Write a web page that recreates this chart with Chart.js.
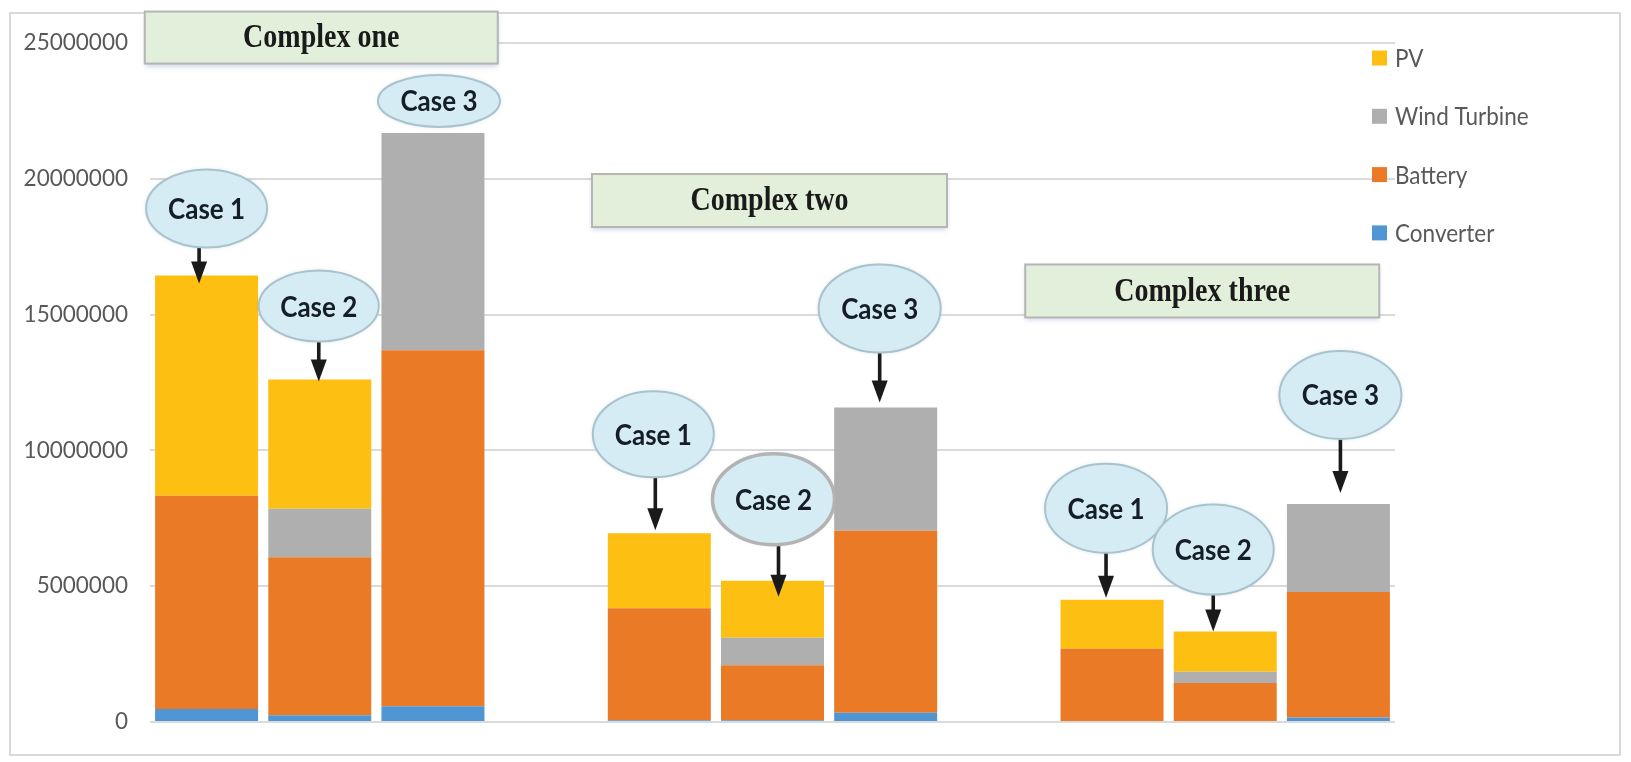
<!DOCTYPE html>
<html>
<head>
<meta charset="utf-8">
<script src="https://cdn.jsdelivr.net/npm/chart.js@4.4.1/dist/chart.umd.min.js"></script>
<style>
  html, body { margin: 0; padding: 0; background: #fff; }
  #wrap { width: 1631px; height: 762px; }
</style>
</head>
<body>
<div id="wrap"><canvas id="chart" width="1631" height="762"></canvas></div>
<script>
// ── Data ─────────────────────────────────────────────────
// 11 slots: three cases per complex, with an empty slot between complexes
const caseLabels = ['Case 1', 'Case 2', 'Case 3', '', 'Case 1', 'Case 2', 'Case 3', '', 'Case 1', 'Case 2', 'Case 3'];
const groupTitles = ['Complex one', 'Complex two', 'Complex three'];
const seriesNames = ['Converter', 'Battery', 'Wind Turbine', 'PV'];

const converter = [480000, 250000, 580000, null, 60000, 60000, 340000, null, 0, 0, 170000];
const battery   = [7850000, 5820000, 13110000, null, 4130000, 2030000, 6700000, null, 2700000, 1440000, 4620000];
const wind      = [0, 1780000, 8000000, null, 0, 1010000, 4540000, null, 0, 410000, 3240000];
const pv        = [8110000, 4760000, 0, null, 2760000, 2100000, 0, null, 1800000, 1480000, 0];

const yTicks = [0, 5000000, 10000000, 15000000, 20000000, 25000000];

// ── Look ─────────────────────────────────────────────────
const colors = ['#5096d5', '#ea7a26', '#afafb0', '#fdbf12'];
const GRID = '#dadada';
const TEXT = '#595959';

// callout ellipse per slot: size, gap above the bar, x shift, arrow tip offset
const calloutLayout = [
  { w: 121, h: 78, gap: 28, dx: 0, ax: -7.5, tip: 8, arrow: true },
  { w: 120, h: 71, gap: 38, dx: -1, ax: -1, tip: 2, arrow: true },
  { w: 122, h: 52, gap: 6, dx: 6, ax: 6, tip: 0, arrow: false },
  null,
  { w: 121, h: 86, gap: 56, dx: -6, ax: -4, tip: -3, arrow: true },
  { w: 122, h: 91, gap: 36, dx: 1, ax: 6, tip: 16, arrow: true, heavy: true },
  { w: 122, h: 88, gap: 55, dx: -6, ax: -6, tip: -5, arrow: true },
  null,
  { w: 122, h: 89, gap: 47, dx: -6, ax: -6, tip: -2, arrow: true },
  { w: 121, h: 90, gap: 37, dx: -12, ax: -12, tip: 0, arrow: true },
  { w: 122, h: 88, gap: 65, dx: 2, ax: 2, tip: -11, arrow: true }
];

const titleLayout = [
  { cat: 1, dx: 1.5, yVal: 25200000, w: 353, h: 52 },
  { cat: 5, dx: -3, yVal: 19200000, w: 355, h: 53 },
  { cat: 9, dx: -23, yVal: 15870000, w: 354, h: 53 }
];

// ── Plugins ──────────────────────────────────────────────
const frame = {
  id: 'frame',
  beforeDraw(chart) {
    const ctx = chart.ctx;
    ctx.save();
    ctx.fillStyle = '#fff';
    ctx.fillRect(0, 0, chart.width, chart.height);
    ctx.strokeStyle = '#d9d9d9';
    ctx.lineWidth = 2;
    ctx.strokeRect(10, 13, 1610, 742);
    ctx.restore();
  }
};

function drawArrow(ctx, x, y0, tipY) {
  ctx.fillStyle = '#1a1a1a';
  ctx.fillRect(x - 1.8, y0, 3.6, tipY - 20 - y0);
  ctx.beginPath();
  ctx.moveTo(x - 8, tipY - 22);
  ctx.lineTo(x + 8, tipY - 22);
  ctx.lineTo(x, tipY);
  ctx.closePath();
  ctx.fill();
}

const annotations = {
  id: 'annotations',
  afterDatasetsDraw(chart) {
    const ctx = chart.ctx;
    const xs = chart.scales.x, ys = chart.scales.y;

    // group titles
    titleLayout.forEach(function (t, i) {
      const cx = xs.getPixelForValue(t.cat) + t.dx;
      const cy = ys.getPixelForValue(t.yVal);
      ctx.save();
      ctx.shadowColor = 'rgba(110,130,180,0.35)';
      ctx.shadowBlur = 5;
      ctx.shadowOffsetY = 3;
      ctx.fillStyle = '#e2efda';
      ctx.fillRect(cx - t.w / 2, cy - t.h / 2, t.w, t.h);
      ctx.restore();
      ctx.save();
      ctx.strokeStyle = '#b5b5b5';
      ctx.lineWidth = 2;
      ctx.strokeRect(cx - t.w / 2, cy - t.h / 2, t.w, t.h);
      ctx.translate(cx, cy + 1);
      ctx.scale(1, 1.2);
      ctx.fillStyle = '#1a1a1a';
      ctx.font = 'bold 28px "Liberation Serif"';
      ctx.textAlign = 'center';
      ctx.textBaseline = 'middle';
      ctx.fillText(groupTitles[i], 0, 0);
      ctx.restore();
    });

    // case callouts
    caseLabels.forEach(function (label, i) {
      const c = calloutLayout[i];
      if (!c || !label) return;
      const total = (converter[i] || 0) + (battery[i] || 0) + (wind[i] || 0) + (pv[i] || 0);
      const barTop = ys.getPixelForValue(total);
      const bx = xs.getPixelForValue(i);
      const ecx = bx + c.dx;
      const eBottom = barTop - c.gap;
      const ecy = eBottom - c.h / 2;

      ctx.save();
      if (c.arrow) drawArrow(ctx, bx + c.ax, eBottom - 1, barTop + c.tip);
      ctx.shadowColor = 'rgba(120,150,170,0.35)';
      ctx.shadowBlur = 4;
      ctx.beginPath();
      ctx.ellipse(ecx, ecy, c.w / 2, c.h / 2, 0, 0, Math.PI * 2);
      ctx.fillStyle = '#d5ecf4';
      ctx.fill();
      ctx.shadowColor = 'transparent';
      ctx.lineWidth = c.heavy ? 3.5 : 2;
      ctx.strokeStyle = c.heavy ? '#b3b3b3' : '#a9c3ce';
      ctx.stroke();
      ctx.translate(ecx, ecy);
      ctx.scale(1, 1.12);
      ctx.fillStyle = '#151d26';
      ctx.font = 'bold 26px Lato';
      ctx.textAlign = 'center';
      ctx.textBaseline = 'middle';
      ctx.fillText(label, 0, 1);
      ctx.restore();
    });

    // legend, top series first
    const lx = chart.chartArea.right - 23;
    const ly = chart.chartArea.top + 15;
    ctx.save();
    ctx.textBaseline = 'middle';
    ctx.textAlign = 'left';
    for (let k = 0; k < seriesNames.length; k++) {
      const d = seriesNames.length - 1 - k;
      const y = ly + k * 58.3;
      ctx.fillStyle = colors[d];
      ctx.fillRect(lx, y - 7.5, 15, 15);
      ctx.save();
      ctx.translate(lx + 23, y + 1);
      ctx.scale(1, 1.12);
      ctx.fillStyle = TEXT;
      ctx.font = '22.5px Lato';
      ctx.fillText(seriesNames[d], 0, 0);
      ctx.restore();
    }
    ctx.restore();
  }
};

// ── Chart ────────────────────────────────────────────────
const seriesData = [converter, battery, wind, pv];

new Chart(document.getElementById('chart'), {
  type: 'bar',
  data: {
    labels: caseLabels,
    datasets: seriesNames.map(function (name, i) {
      return {
        label: name,
        data: seriesData[i],
        backgroundColor: colors[i],
        borderWidth: 0,
        categoryPercentage: 1,
        barPercentage: 0.91
      };
    })
  },
  options: {
    responsive: false,
    animation: false,
    layout: { padding: { left: 0, right: 236, top: 43, bottom: 40 } },
    plugins: {
      legend: { display: false },
      tooltip: { enabled: false }
    },
    scales: {
      x: {
        stacked: true,
        display: false
      },
      y: {
        stacked: true,
        min: 0,
        max: 25000000,
        afterFit: function (s) { s.width = 150; },
        afterBuildTicks: function (s) { s.ticks = yTicks.map(function (v) { return { value: v }; }); },
        border: { display: false },
        grid: { color: GRID, lineWidth: 2, drawTicks: false },
        ticks: {
          padding: 22,
          color: TEXT,
          font: { family: 'Lato', size: 22.5 },
          callback: function (v) { return String(v); }
        }
      }
    }
  },
  plugins: [frame, annotations]
});
</script>
</body>
</html>
